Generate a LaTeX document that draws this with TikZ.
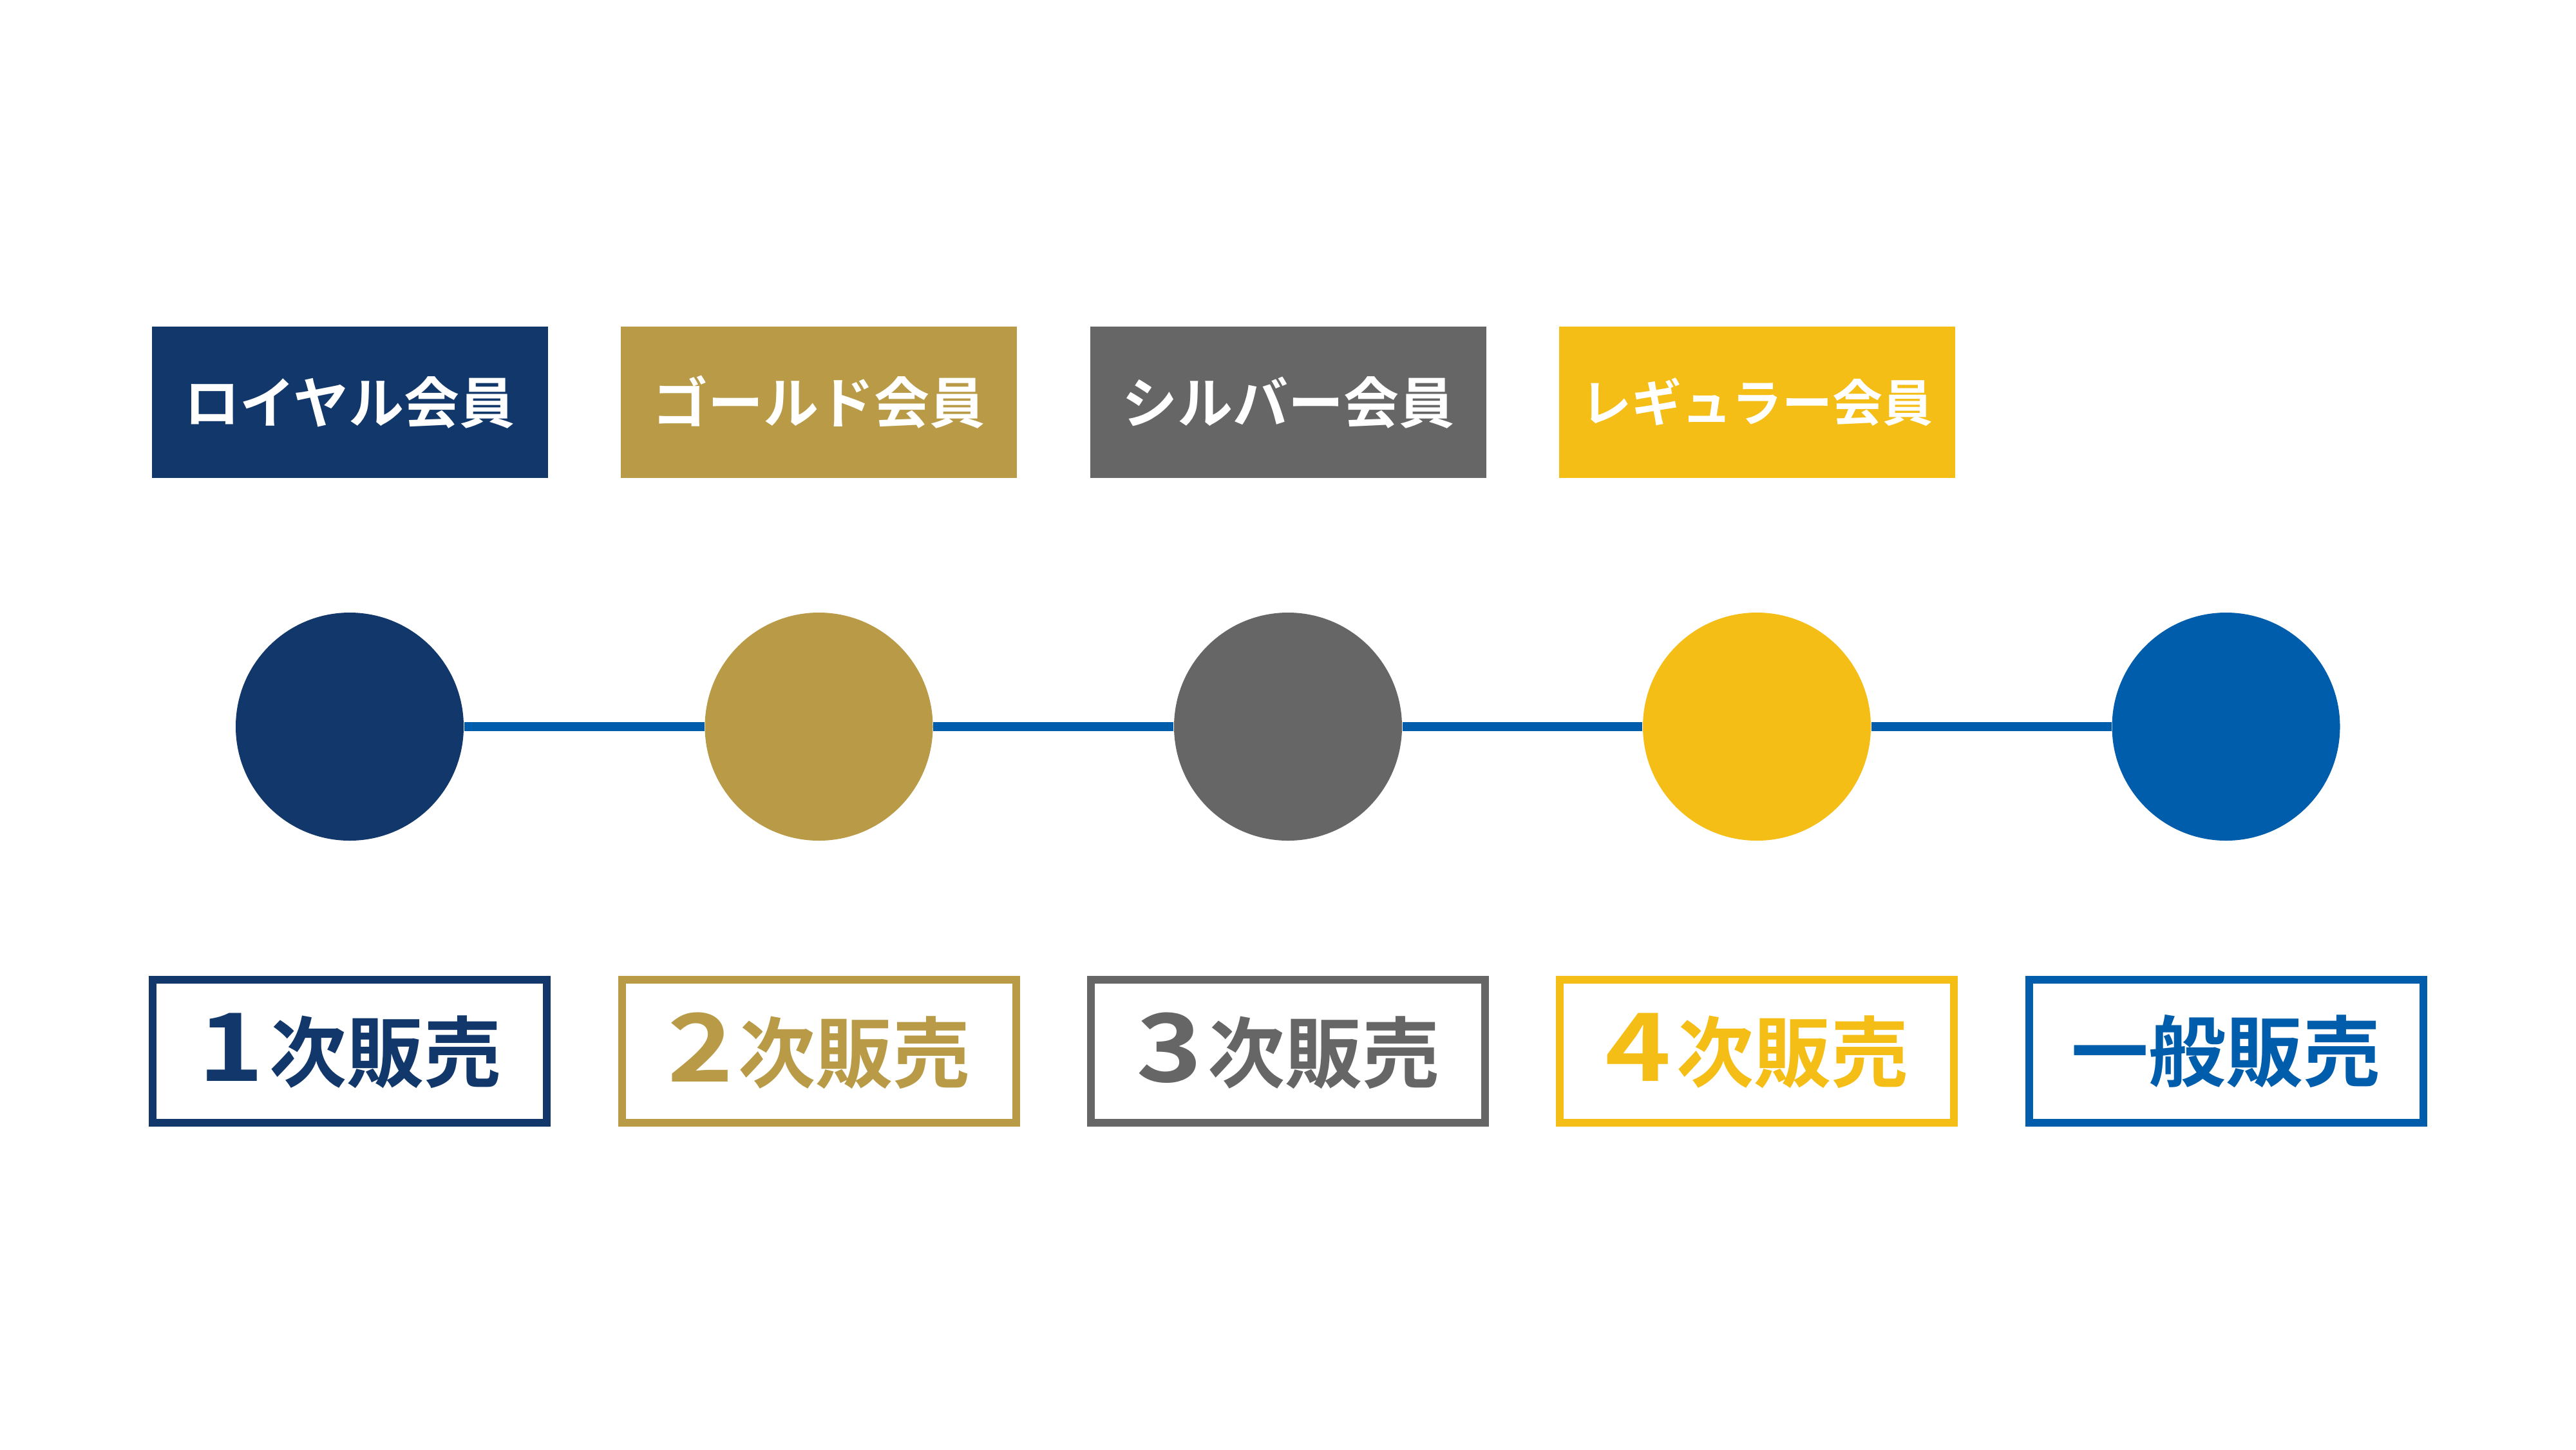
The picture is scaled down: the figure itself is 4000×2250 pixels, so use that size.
\documentclass[tikz,border=0pt]{standalone}
\usepackage{fontspec}
\usepackage{graphicx}
\newfontfamily\jpfont{Noto Sans CJK JP}[BoldFont={Noto Sans CJK JP Bold}]
\definecolor{navy}{HTML}{12386B}
\definecolor{gold}{HTML}{B89A47}
\definecolor{silver}{HTML}{666666}
\definecolor{yell}{HTML}{F5BE16}
\definecolor{blu}{HTML}{005DAC}
\newcommand{\bigdig}[1]{\scalebox{1.45}[1.22]{#1}\hspace{2pt}}
\begin{document}
\begin{tikzpicture}[x=0.25pt,y=-0.25pt,
  tag/.style={fill=#1, draw=none, minimum width=153.75pt, minimum height=58.75pt, inner sep=0pt,
    text=white, font=\jpfont\bfseries\fontsize{21.5pt}{24pt}\selectfont},
  dot/.style={circle, fill=#1, draw=none, minimum size=88.5pt, inner sep=0pt},
  sale/.style={draw=#1, line width=3pt, fill=white, minimum width=153pt, minimum height=55.5pt, inner sep=0pt,
    text=#1, font=\jpfont\bfseries\fontsize{30pt}{33pt}\selectfont},
  link/.style={draw=blu, line width=3.5pt}]
\useasboundingbox (0,0) rectangle (4000,2250);
\fill[white] (0,0) rectangle (4000,2250);
% member tags
\node[tag=navy] (t1) at (543,624.5) {ロイヤル会員};
\node[tag=gold] (t2) at (1271.5,624.5) {ゴールド会員};
\node[tag=silver] (t3) at (2000,624.5) {シルバー会員};
\node[tag=yell, font=\jpfont\bfseries\fontsize{19.5pt}{22pt}\selectfont] (t4) at (2728,624.5) {レギュラー会員};
% timeline dots
\node[dot=navy] (c1) at (543,1128) {};
\node[dot=gold] (c2) at (1271.5,1128) {};
\node[dot=silver] (c3) at (2000,1128) {};
\node[dot=yell] (c4) at (2728,1128) {};
\node[dot=blu] (c5) at (3456.5,1128) {};
\draw[link] (c1) -- (c2);
\draw[link] (c2) -- (c3);
\draw[link] (c3) -- (c4);
\draw[link] (c4) -- (c5);
% sale boxes
\node[sale=navy] (s1) at (543,1631.5) {\bigdig{1}次販売};
\node[sale=gold] (s2) at (1271.5,1631.5) {\bigdig{2}次販売};
\node[sale=silver] (s3) at (2000,1631.5) {\bigdig{3}次販売};
\node[sale=yell] (s4) at (2728,1631.5) {\bigdig{4}次販売};
\node[sale=blu] (s5) at (3456.5,1631.5) {一般販売};
\end{tikzpicture}
\end{document}
